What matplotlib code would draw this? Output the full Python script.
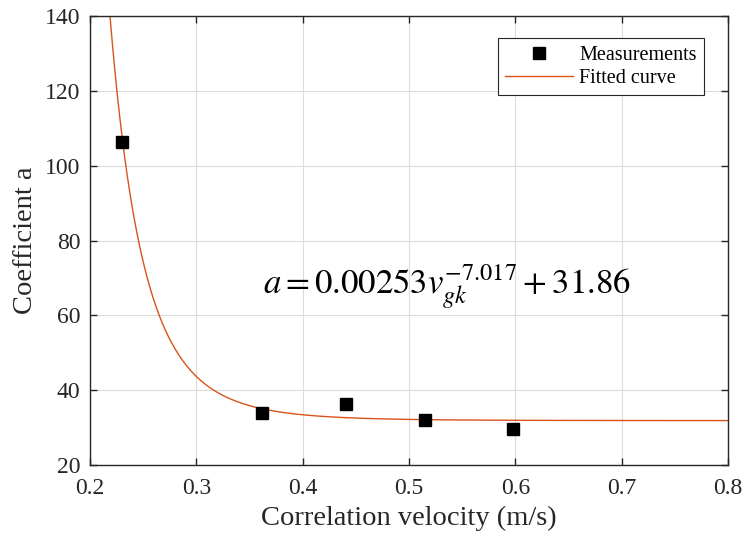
import matplotlib
matplotlib.use("Agg")
import matplotlib.pyplot as plt
import numpy as np

# measured points
velocity = [0.230, 0.362, 0.441, 0.515, 0.598]
coefficient_a = [106.3, 33.9, 36.3, 32.0, 29.6]

# fitted curve parameters (from the annotation on the chart)
fit_k = 0.00253
fit_p = -7.017
fit_c = 31.86

x_ticks = [0.2, 0.3, 0.4, 0.5, 0.6, 0.7, 0.8]
y_ticks = [20, 40, 60, 80, 100, 120, 140]

plt.rcParams["font.family"] = ["Liberation Serif", "DejaVu Serif"]
plt.rcParams["mathtext.fontset"] = "stix"

text_color = "#262626"

fig = plt.figure(figsize=(7.47, 5.44), dpi=100)
ax = fig.add_axes([0.1205, 0.1452, 0.8541, 0.8254])

v_fit = np.linspace(0.2, 0.8, 600)
a_fit = fit_k * v_fit ** fit_p + fit_c

ax.plot(velocity, coefficient_a, "s", color="black", markersize=9,
        label="Measurements", zorder=3)
ax.plot(v_fit, a_fit, "-", color="#D95319", linewidth=1.0,
        label="Fitted curve", zorder=2)

ax.set_xlim(0.2, 0.8)
ax.set_ylim(20, 140)
ax.set_xticks(x_ticks)
ax.set_yticks(y_ticks)
ax.set_xticklabels([f"{t:g}" for t in x_ticks])
ax.grid(True, color="#dcdcdc", linewidth=0.8)
ax.set_axisbelow(True)

ax.tick_params(direction="in", top=True, right=True, length=5, width=1.0,
               labelsize=17, colors=text_color)
ax.tick_params(axis="x", pad=9)
ax.tick_params(axis="y", pad=7)
for s in ax.spines.values():
    s.set_color(text_color)
    s.set_linewidth(1.0)

ax.set_xlabel("Correlation velocity (m/s)", fontsize=20.5, color=text_color,
              labelpad=5)
ax.set_ylabel("Coefficient a", fontsize=20.5, color=text_color, labelpad=5)

ax.text(0.536, 67.5, r"$a = 0.00253v_{gk}^{-7.017} + 31.86$", fontsize=25,
        ha="center", va="center", color="black")

leg = ax.legend(loc="upper right", bbox_to_anchor=(0.962, 0.95), fontsize=14.5,
                fancybox=False, edgecolor=text_color, framealpha=1,
                borderpad=0.35, handlelength=3.4, handletextpad=0.3,
                labelspacing=0.2, borderaxespad=0)
leg.get_frame().set_linewidth(0.8)

fig.savefig("out.png", dpi=100)
